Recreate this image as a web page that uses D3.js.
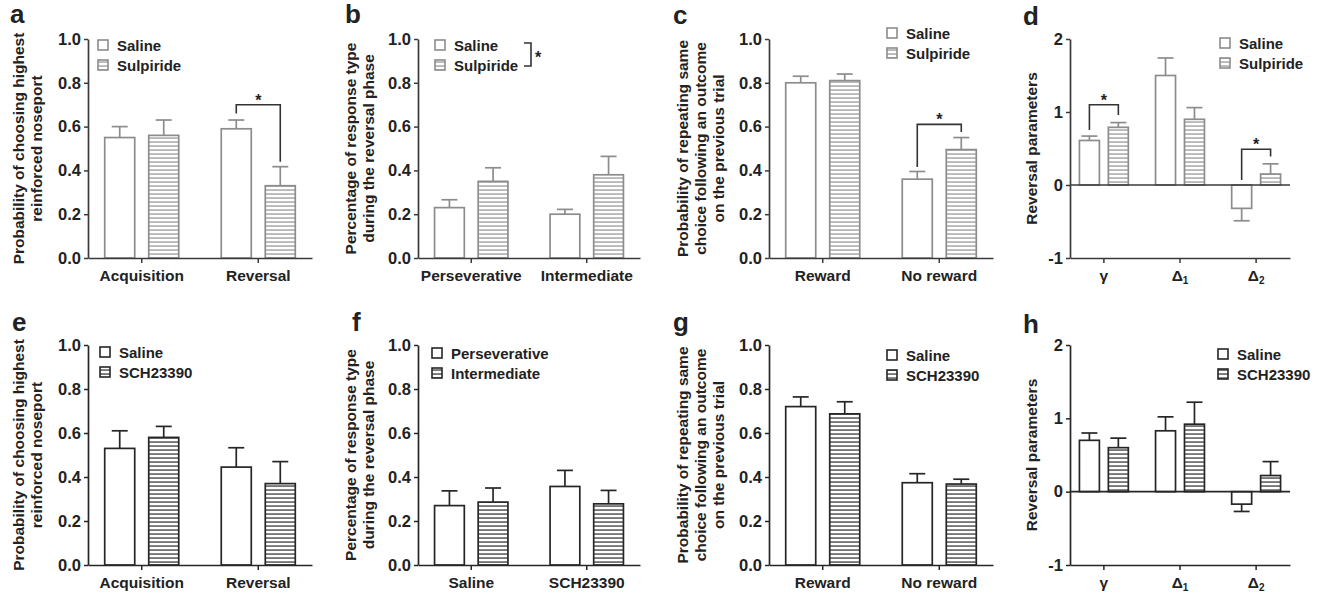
<!DOCTYPE html>
<html>
<head>
<meta charset="utf-8">
<script src="https://cdn.jsdelivr.net/npm/d3@7"></script>
<style>
  body { margin: 0; background: #fff; }
  svg text { font-family: "Liberation Sans", Arial, sans-serif; font-weight: bold; fill: #222; }
</style>
</head>
<body>
<svg id="fig" width="1320" height="592"></svg>
<script>
// ---- data (mean, SEM) ----
const groupsAcq = ["Acquisition", "Reversal"];
const groupsResp = ["Perseverative", "Intermediate"];
const groupsDrug = ["Saline", "SCH23390"];
const groupsOutcome = ["Reward", "No reward"];
const groupsParam = ["gamma", "delta1", "delta2"];
const paramLabels = [["γ", ""], ["Δ", "1"], ["Δ", "2"]];

const probTicks = [0, 0.2, 0.4, 0.6, 0.8, 1.0];
const paramTicks = [-1, 0, 1, 2];

// a
const salA = [0.55, 0.59], salAErr = [0.05, 0.04];
const sulA = [0.56, 0.33], sulAErr = [0.07, 0.087];
// b
const salB = [0.23, 0.20], salBErr = [0.036, 0.022];
const sulB = [0.35, 0.38], sulBErr = [0.062, 0.084];
// c
const salC = [0.80, 0.36], salCErr = [0.03, 0.035];
const sulC = [0.81, 0.495], sulCErr = [0.03, 0.055];
// d
const salD = [0.61, 1.50, -0.32], salDErr = [0.06, 0.24, 0.17];
const sulD = [0.79, 0.90, 0.15], sulDErr = [0.065, 0.16, 0.14];
// e
const salE = [0.53, 0.445], salEErr = [0.08, 0.088];
const schE = [0.58, 0.37], schEErr = [0.05, 0.10];
// f
const persF = [0.27, 0.357], persFErr = [0.067, 0.073];
const intF = [0.286, 0.278], intFErr = [0.064, 0.061];
// g
const salG = [0.72, 0.374], salGErr = [0.044, 0.041];
const schG = [0.687, 0.368], schGErr = [0.055, 0.022];
// h
const salH = [0.70, 0.83, -0.17], salHErr = [0.10, 0.19, 0.10];
const schH = [0.60, 0.92, 0.22], schHErr = [0.13, 0.30, 0.19];

// significance brackets: group index, bracket height, left/right leg ends
const sigA = [{ g: 1, top: 0.70, left: 0.66, right: 0.44 }];
const sigC = [{ g: 1, top: 0.61, left: 0.415, right: 0.575 }];
const sigD = [{ g: 0, top: 1.10, left: 0.755, right: 0.96 }, { g: 2, top: 0.49, left: 0.07, right: 0.39 }];

const titleA = ["Probability of choosing highest", "reinforced noseport"];
const titleB = ["Percentage of response type", "during the reversal phase"];
const titleC = ["Probability of repeating same", "choice following an outcome", "on the previous trial"];
const titleD = ["Reversal parameters"];

// ---- layout ----
const rows = {
  1: { top: 39, bot: 258, bar: "#8c8c8c", hatch: "url(#hatchGrey)", axis: "#3a3a3a" },
  2: { top: 345, bot: 565, bar: "#262626", hatch: "url(#hatchDark)", axis: "#262626" }
};

const svg = d3.select("#fig");
const defs = svg.append("defs");
[["hatchGrey", "#9a9a9a"], ["hatchDark", "#3c3c3c"]].forEach(([id, c]) => {
  const pat = defs.append("pattern").attr("id", id)
    .attr("patternUnits", "userSpaceOnUse").attr("width", 6).attr("height", 4);
  pat.append("rect").attr("width", 6).attr("height", 4).attr("fill", "#fff");
  pat.append("rect").attr("y", 1.4).attr("width", 6).attr("height", 1.3).attr("fill", c);
});

function mk(name, vals, errs) { return { name, vals, errs }; }

const panels = [
  { letter: "a", lp: [10, 23], row: 1, x0: 88, x1: 312, groups: groupsAcq,
    series: [mk("Saline", salA, salAErr), mk("Sulpiride", sulA, sulAErr)],
    title: titleA, titleX: -51, legend: [98, 40], sig: sigA },
  { letter: "b", lp: [345, 23], row: 1, x0: 418, x1: 640, groups: groupsResp,
    series: [mk("Saline", salB, salBErr), mk("Sulpiride", sulB, sulBErr)],
    title: titleB, titleX: -49, legend: [435, 40], sig: [], legendSig: true },
  { letter: "c", lp: [673, 24], row: 1, x0: 769, x1: 993, groups: groupsOutcome,
    series: [mk("Saline", salC, salCErr), mk("Sulpiride", sulC, sulCErr)],
    title: titleC, titleX: -50, legend: [887, 28], sig: sigC },
  { letter: "d", lp: [1023, 25], row: 1, x0: 1070, x1: 1290, groups: groupsParam, param: true,
    series: [mk("Saline", salD, salDErr), mk("Sulpiride", sulD, sulDErr)],
    title: titleD, titleX: -38, legend: [1220, 38], sig: sigD },
  { letter: "e", lp: [12, 331], row: 2, x0: 88, x1: 312, groups: groupsAcq,
    series: [mk("Saline", salE, salEErr), mk("SCH23390", schE, schEErr)],
    title: titleA, titleX: -51, legend: [100, 347], sig: [] },
  { letter: "f", lp: [352, 331], row: 2, x0: 418, x1: 640, groups: groupsDrug,
    series: [mk("Perseverative", persF, persFErr), mk("Intermediate", intF, intFErr)],
    title: titleB, titleX: -49, legend: [432, 348], sig: [] },
  { letter: "g", lp: [673, 331], row: 2, x0: 769, x1: 993, groups: groupsOutcome,
    series: [mk("Saline", salG, salGErr), mk("SCH23390", schG, schGErr)],
    title: titleC, titleX: -50, legend: [887, 350], sig: [] },
  { letter: "h", lp: [1023, 333], row: 2, x0: 1070, x1: 1290, groups: groupsParam, param: true,
    series: [mk("Saline", salH, salHErr), mk("SCH23390", schH, schHErr)],
    title: titleD, titleX: -38, legend: [1218, 349], sig: [] }
];

function drawPanel(p) {
  const r = rows[p.row];
  const g = svg.append("g");
  const y = d3.scaleLinear().domain(p.param ? [-1, 2] : [0, 1]).range([r.bot, r.top]);
  const x = d3.scaleBand().domain(p.groups).range([p.x0, p.x1])
    .paddingInner(p.param ? 0.35 : 0.25).paddingOuter(p.param ? 0.12 : 0.086);
  const xs = d3.scaleBand().domain([0, 1]).range([0, x.bandwidth()])
    .paddingInner(p.param ? 0.31 : 0.318).paddingOuter(p.param ? 0.01 : 0.152);
  const bw = xs.bandwidth();

  p.series.forEach((s, si) => {
    const data = p.groups.map((k, i) => ({ k, v: s.vals[i], e: s.errs[i] }));
    const cx = d => x(d.k) + xs(si) + bw / 2;
    const tip = d => y(d.v + Math.sign(d.v) * d.e);

    // error bars (one-sided)
    g.selectAll(null).data(data).enter().append("line")
      .attr("x1", cx).attr("x2", cx)
      .attr("y1", d => y(d.v)).attr("y2", tip)
      .attr("stroke", r.bar).attr("stroke-width", 1.7);
    g.selectAll(null).data(data).enter().append("line")
      .attr("x1", d => cx(d) - 8).attr("x2", d => cx(d) + 8)
      .attr("y1", tip).attr("y2", tip)
      .attr("stroke", r.bar).attr("stroke-width", 1.7);

    g.selectAll(null).data(data).enter().append("rect")
      .attr("x", d => x(d.k) + xs(si))
      .attr("width", bw)
      .attr("y", d => y(Math.max(d.v, 0)))
      .attr("height", d => Math.abs(y(d.v) - y(0)))
      .attr("fill", si === 0 ? "#fff" : r.hatch)
      .attr("stroke", r.bar).attr("stroke-width", 1.7);
  });

  // axes
  const yAxis = d3.axisLeft(y).tickValues(p.param ? paramTicks : probTicks)
    .tickFormat(p.param ? (v => String(v)) : d3.format(".1f"))
    .tickSize(4).tickSizeOuter(0).tickPadding(3);
  const xAxis = d3.axisBottom(x).tickSize(5).tickSizeOuter(0).tickPadding(7);

  const ya = g.append("g").attr("transform", `translate(${p.x0},0)`).call(yAxis);
  const xa = g.append("g").attr("transform", `translate(0,${r.bot})`).call(xAxis);
  ya.attr("font-size", 16.5).attr("font-family", null);
  xa.attr("font-size", 15.5).attr("font-family", null);
  [ya, xa].forEach(a => {
    a.select(".domain").attr("stroke", r.axis).attr("stroke-width", 1.7);
    a.selectAll(".tick line").attr("stroke", r.axis).attr("stroke-width", 1.5);
    a.selectAll(".tick text").attr("fill", "#222");
  });

  if (p.param) {
    xa.selectAll(".tick text").each(function (d, i) {
      const t = d3.select(this).text(null);
      t.append("tspan").text(paramLabels[i][0]);
      if (paramLabels[i][1]) t.append("tspan").attr("font-size", 10).attr("dy", "0.3em").text(paramLabels[i][1]);
    });
    g.append("line").attr("x1", p.x0).attr("x2", p.x1)
      .attr("y1", y(0)).attr("y2", y(0))
      .attr("stroke", r.axis).attr("stroke-width", 1.7);
  }

  // y title
  const cy = (r.top + r.bot) / 2;
  const n = p.title.length;
  p.title.forEach((line, i) => {
    const tx = p.x0 + p.titleX - (n - 1 - i) * 18;
    g.append("text").attr("transform", `translate(${tx},${cy}) rotate(-90)`)
      .attr("text-anchor", "middle").attr("dy", "0.35em")
      .attr("font-size", 15.5).text(line);
  });

  // significance brackets
  p.sig.forEach(s => {
    const k = p.groups[s.g];
    const xl = x(k) + xs(0) + bw / 2, xr = x(k) + xs(1) + bw / 2;
    g.append("path")
      .attr("d", `M${xl},${y(s.left)}V${y(s.top)}H${xr}V${y(s.right)}`)
      .attr("fill", "none").attr("stroke", "#333").attr("stroke-width", 1.6);
    g.append("text").attr("x", (xl + xr) / 2).attr("y", y(s.top) + 1)
      .attr("text-anchor", "middle").attr("font-size", 16).text("*");
  });

  // legend
  const [lx, ly] = p.legend;
  p.series.forEach((s, si) => {
    g.append("rect").attr("x", lx).attr("y", ly + si * 20).attr("width", 10).attr("height", 10)
      .attr("fill", si === 0 ? "#fff" : r.hatch).attr("stroke", r.bar).attr("stroke-width", 1.6);
    g.append("text").attr("x", lx + 19).attr("y", ly + si * 20 + 11)
      .attr("font-size", 15).text(s.name);
  });
  if (p.legendSig) {
    g.append("path").attr("d", `M${lx + 89},${ly + 3}H${lx + 96}V${ly + 26}H${lx + 89}`)
      .attr("fill", "none").attr("stroke", "#333").attr("stroke-width", 1.6);
    g.append("text").attr("x", lx + 103).attr("y", ly + 23)
      .attr("text-anchor", "middle").attr("font-size", 16).text("*");
  }

  // panel letter
  svg.append("text").attr("x", p.lp[0]).attr("y", p.lp[1]).attr("font-size", 26).text(p.letter);
}

panels.forEach(drawPanel);
</script>
</body>
</html>
